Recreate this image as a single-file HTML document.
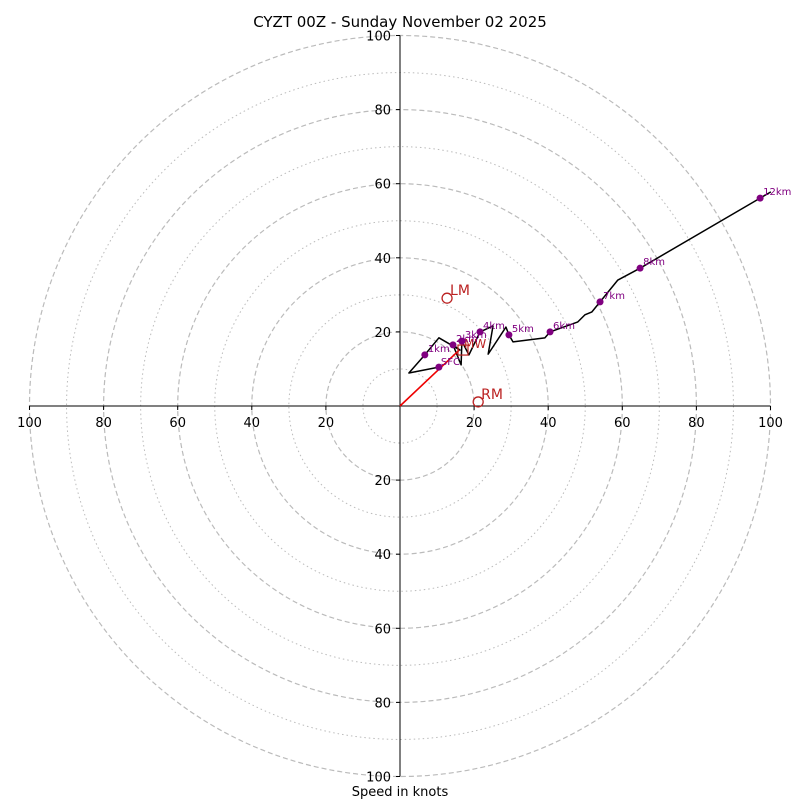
<!DOCTYPE html>
<html><head><meta charset="utf-8"><style>
html,body{margin:0;padding:0;background:#fff;}
svg text{font-family:"DejaVu Sans","Liberation Sans",sans-serif;}
</style></head><body>
<svg id="chart" width="800" height="800" viewBox="0 0 800 800" xmlns="http://www.w3.org/2000/svg">
<text x="400" y="27" text-anchor="middle" font-size="15">CYZT 00Z - Sunday November 02 2025</text>
<text x="400" y="796" text-anchor="middle" font-size="13">Speed in knots</text>
<g id="rings"></g><g id="axes"></g><g id="ticks"></g><g id="trace"></g><g id="marks"></g>
</svg>
<script>
const ringVals=[10,20,30,40,50,60,70,80,90,100];
const tickVals=[20,40,60,80,100];
const traceU=[10.5,2.4,6.7,10.5,16.2,14.3,16.5,16.7,18.6,21.6,25.1,23.8,28.6,29.4,30.5,39.1,40.5,48.0,49.9,51.8,54.0,58.8,64.8,97.2,100.1];
const traceV=[10.5,8.9,13.8,18.4,15.1,16.5,11.1,17.5,13.8,20.0,21.6,14.0,21.3,19.2,17.3,18.4,20.0,22.7,24.6,25.4,28.1,34.0,37.2,56.1,57.8];
const levelLabels=["SFC","1km","2km","3km","4km","5km","6km","7km","8km","12km"];
const levelU=[10.5,6.7,14.3,16.7,21.6,29.4,40.5,54.0,64.8,97.2];
const levelV=[10.5,13.8,16.5,17.5,20.0,19.2,20.0,28.1,37.2,56.1];
const stormLabels=["LM","RM"];
const stormU=[12.7,21.1];
const stormV=[29.1,1.1];
const meanWind=[17.0,15.1];
const cx=400,cy=406,k=3.705;
const X=u=>cx+u*k, Y=v=>cy-v*k;
const NS="http://www.w3.org/2000/svg";
function mk(tag,parent,attrs){const e=document.createElementNS(NS,tag);for(const a in attrs)e.setAttribute(a,attrs[a]);document.getElementById(parent).appendChild(e);return e;}
ringVals.forEach(r=>{
 const c=mk('circle','rings',{cx:cx,cy:cy,r:r*k,fill:'none',stroke:'#bbb','stroke-width':r%20===0?1.2:1,'stroke-dasharray':r%20===0?'5,3':'1.5,3'});
 
 
});
const hx=mk('line','axes',{x1:X(-100),y1:cy,x2:X(100),y2:cy,stroke:'#000','stroke-width':1});


const vy=mk('line','axes',{x1:cx,y1:Y(100),x2:cx,y2:Y(-100),stroke:'#000','stroke-width':1});


tickVals.forEach(t=>{[-1,1].forEach(s=>{
 const a=mk('line','ticks',{x1:X(s*t),y1:cy,x2:X(s*t),y2:cy+4,stroke:'#000'});
 
 
 const tx=mk('text','ticks',{x:X(s*t),y:cy+21,'text-anchor':'middle','font-size':13});tx.textContent=t;
 
 
 const b=mk('line','ticks',{x1:cx-4,y1:Y(s*t),x2:cx,y2:Y(s*t),stroke:'#000'});
 
 
 const ty=mk('text','ticks',{x:cx-9,y:Y(s*t)+5,'text-anchor':'end','font-size':13});ty.textContent=t;
 
 
});});
const pl=mk('polyline','trace',{points:traceU.map((u,i)=>X(u)+','+Y(traceV[i])).join(' '),fill:'none',stroke:'#000','stroke-width':1.5,'stroke-linejoin':'round'});


const arr=mk('line','marks',{x1:X(0),y1:Y(0),x2:X(meanWind[0]-1),y2:Y(meanWind[1]),stroke:'#e00','stroke-width':1.6});


const mw=mk('rect','marks',{x:X(meanWind[0])-5,y:Y(meanWind[1])-5,width:10,height:10,fill:'none',stroke:'#b22','stroke-width':1.2});


const mwt=mk('text','marks',{x:X(meanWind[0])+1,y:Y(meanWind[1])-2,'font-size':12,fill:'#b22'});mwt.textContent='MW';


levelLabels.forEach((l,i)=>{
 const d=mk('circle','marks',{cx:X(levelU[i]),cy:Y(levelV[i]),r:3.5,fill:'purple'});
 
 
 const t=mk('text','marks',{x:X(levelU[i])+(l==='SFC'?2:3),y:Y(levelV[i])+(l==='SFC'?-2:-3),'font-size':10,fill:'purple'});t.textContent=l;
 
 
});
stormLabels.forEach((l,i)=>{
 const c=mk('circle','marks',{cx:X(stormU[i]),cy:Y(stormV[i]),r:5,fill:'none',stroke:'#b22','stroke-width':1.3});
 
 
 const t=mk('text','marks',{x:X(stormU[i])+3,y:Y(stormV[i])-3,'font-size':14,fill:'#b22'});t.textContent=l;
 
 
});
</script>
</body></html>
